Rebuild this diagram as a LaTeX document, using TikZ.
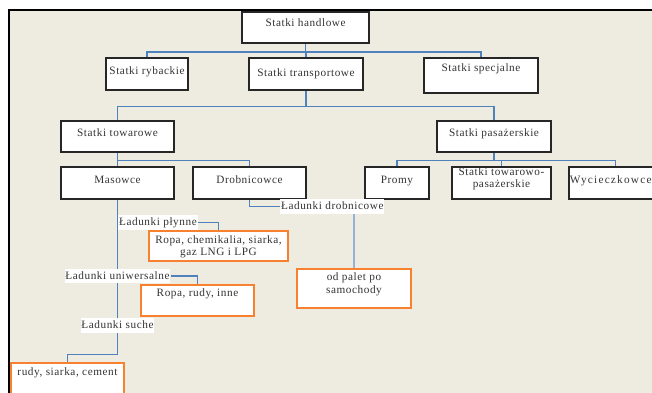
\documentclass[tikz,border=0pt]{standalone}
\usepackage{fontspec}
\setmainfont{Liberation Serif}[LetterSpace=5]
\usepackage{tikz}
\usetikzlibrary{positioning,calc}
\definecolor{PaperBeige}{HTML}{EEEBE1}
\definecolor{LinkBlue}{HTML}{4F81BD}
\definecolor{PaleBlue}{HTML}{95B3D7}
\definecolor{CargoOrange}{HTML}{F7812F}
\definecolor{InkGray}{HTML}{333333}

\begin{document}
\begin{tikzpicture}[
  box/.style={draw=black!85,line width=1pt,fill=white,inner sep=0pt,text=InkGray,font=\fontsize{8}{8.8}\selectfont,text height=7pt,text depth=1.5pt,align=center},
  cargo/.style={box,draw=CargoOrange},
  tag/.style={fill=white,inner xsep=0.6pt,inner ysep=0.8pt,text=InkGray,font=\fontsize{8}{8.8}\selectfont,text height=6.5pt,text depth=2pt},
  link/.style={draw=LinkBlue,line width=1pt},
  faint/.style={draw=PaleBlue,line width=1.2pt}
]
\useasboundingbox (0,0) rectangle (16.3,-9.8);
\fill[PaperBeige] (0.225,-0.25) rectangle (16.5,-10);
\draw[line width=1.5pt] (0.225,-10) -- (0.225,-0.25) -- (16.5,-0.25);

\node[box,minimum width=3.175cm,minimum height=0.775cm,text depth=9pt] (handlowe) at (7.64,-0.69) {Statki handlowe};
\node[box,minimum width=2.05cm,minimum height=0.8cm,text depth=5.6pt] (rybackie) at (3.675,-1.85) {Statki rybackie};
\node[box,minimum width=2.85cm,minimum height=0.8cm,text depth=2.8pt] (transport) at (7.65,-1.85) {Statki transportowe};
\node[box,minimum width=2.85cm,minimum height=0.875cm,text depth=12pt] (specjalne) at (12.025,-1.8875) {Statki specjalne};
\node[box,minimum width=2.825cm,minimum height=0.775cm,text depth=7.5pt] (towarowe) at (2.9375,-3.4125) {Statki towarowe};
\node[box,minimum width=2.85cm,minimum height=0.775cm,text depth=7.5pt] (pasazerskie) at (12.35,-3.4125) {Statki pasażerskie};
\node[box,minimum width=2.825cm,minimum height=0.8cm,text depth=7pt] (masowce) at (2.9375,-4.575) {Masowce};
\node[box,minimum width=2.825cm,minimum height=0.8cm,text depth=7pt] (drobnicowce) at (6.2375,-4.575) {Drobnicowce};
\node[box,minimum width=1.6cm,minimum height=0.8cm,text depth=7pt] (promy) at (9.925,-4.575) {Promy};
\node[box,minimum width=2.475cm,minimum height=0.8cm,text height=9pt,text depth=2pt] (towpas) at (12.5375,-4.575) {Statki towarowo-\\pasażerskie};
\node[box,minimum width=2.325cm,minimum height=0.8cm,text depth=7pt,align=left,text width=2.28cm,inner xsep=0.02cm] (wycieczkowce) at (15.3875,-4.575) {\addfontfeature{LetterSpace=11}Wycieczkowce};

\node[cargo,minimum width=3.475cm,minimum height=0.75cm,text height=16pt,text depth=1.8pt] (plynnebox) at (5.4625,-6.15) {Ropa, chemikalia, siarka,\\gaz LNG i LPG};
\node[cargo,minimum width=2.825cm,minimum height=0.775cm,text depth=13.4pt] (uniwbox) at (4.9375,-7.5125) {Ropa, rudy, inne};
\node[cargo,minimum width=2.825cm,minimum height=0.775cm,text depth=10.6pt] (suchebox) at (1.6875,-9.4625) {rudy, siarka, cement};
\node[cargo,minimum width=2.85cm,minimum height=0.975cm,text height=8.4pt,text depth=2pt] (palety) at (8.85,-7.2125) {od palet po\\samochody};

\draw[link] (handlowe.south) -- ++(0,-0.2) coordinate (bus1);
\draw[link] (bus1) -| (rybackie.north);
\draw[link] (bus1) -| (specjalne.north);
\draw[link] (bus1) -| (transport.north);
\draw[link] (transport.south) -- ++(0,-0.4) coordinate (bus2);
\draw[link] (bus2) -| (towarowe.north);
\draw[link] (bus2) -| (pasazerskie.north);
\draw[link] (towarowe.south) -- ++(0,-0.2) coordinate (bus3);
\draw[link] (bus3) -- (masowce.north);
\draw[link] (bus3) -| (drobnicowce.north);
\draw[link] (pasazerskie.south) -- ++(0,-0.2) coordinate (bus4);
\draw[link] (bus4) -| (promy.north);
\draw[link] (bus4) -| (towpas.north);
\draw[link] (bus4) -| (wycieczkowce.north);
\draw[link] (masowce.south) -- ++(0,-3.875) -| (suchebox.north);

\node[tag,anchor=west] (lplynne) at (2.95,-5.5625) {Ładunki płynne};
\node[tag] (luniw) at (2.9375,-6.9) {Ładunki uniwersalne};
\node[tag] (lsuche) at (2.9375,-8.1375) {Ładunki suche};
\node[tag,anchor=west] (ldrobn) at (7.0,-5.1625) {Ładunki drobnicowe};

\draw[link] (lplynne.east) -| (plynnebox.north);
\draw[link] (luniw.east) -| (uniwbox.north);
\draw[link] (drobnicowce.south) |- (ldrobn.west);
\draw[faint] (ldrobn.south -| palety.north) -- (palety.north);
\end{tikzpicture}
\end{document}
